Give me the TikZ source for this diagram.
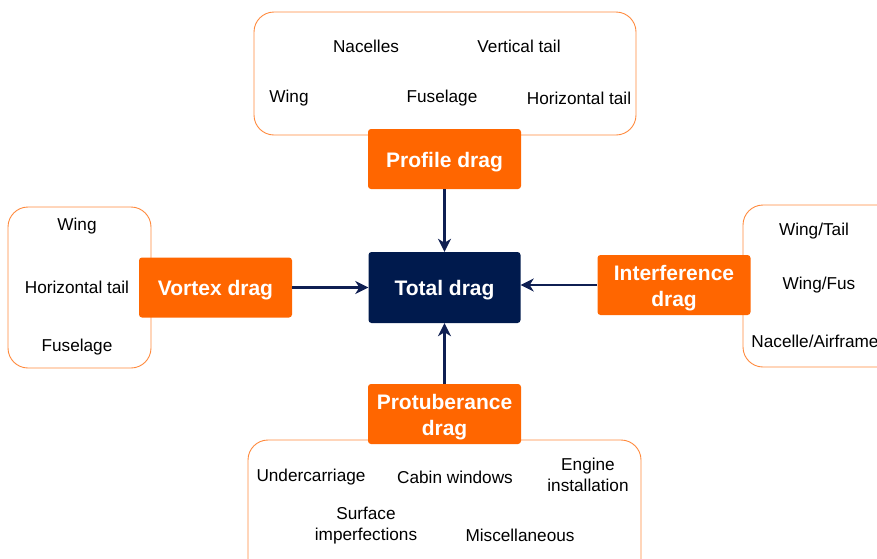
\documentclass[tikz,border=0pt]{standalone}
\usepackage{fontspec}
\setmainfont{Liberation Sans}
\usetikzlibrary{arrows.meta}
\definecolor{orng}{HTML}{FF6600}
\definecolor{grpline}{HTML}{FF8A3D}
\definecolor{navy}{HTML}{001A4D}
\definecolor{arr}{HTML}{0F1F52}
\tikzset{
  grp/.style={draw=grpline, line width=0.9pt, rounded corners=20pt, fill=white, inner sep=0pt},
  cat/.style={fill=orng, rounded corners=3pt, inner sep=0pt, minimum width=153pt, minimum height=60pt},
  tot/.style={fill=navy, rounded corners=3pt, inner sep=0pt, minimum width=152pt, minimum height=71pt},
  lbl/.style={inner sep=0pt, text=white, font=\fontsize{21}{26}\selectfont\bfseries, align=center},
  itm/.style={inner sep=0pt, text=black, font=\fontsize{17.2}{21}\selectfont, align=center},
  conn/.style={draw=arr, line width=2.2pt, -{Stealth[length=13pt,width=13pt,inset=4pt]}}
}
\begin{document}
\begin{tikzpicture}[x=1pt,y=-1pt]
\useasboundingbox (0,0) rectangle (877,558);
\clip (0,0) rectangle (877,558);
% group boxes
\node[grp, minimum width=382pt, minimum height=123pt] (gtop) at (445,73.5) {};
\node[grp, minimum width=143pt, minimum height=161pt] (gleft) at (79.5,287.5) {};
\node[grp, minimum width=160pt, minimum height=162pt] (gright) at (823,286) {};
\node[grp, minimum width=393pt, minimum height=160pt] (gbot) at (444.5,520) {};
% items top
\node[itm] (t1) at (366,46.5) {Nacelles};
\node[itm] (t2) at (519,46.5) {Vertical tail};
\node[itm] (t3) at (289,98.5) {Wing};
\node[itm] (t4) at (442,98.5) {Fuselage};
\node[itm] (t5) at (579,98.5) {Horizontal tail};
% items left
\node[itm] (l1) at (77,226.5) {Wing};
\node[itm] (l2) at (77,287.5) {Horizontal tail};
\node[itm] (l3) at (77,347.5) {Fuselage};
% items right
\node[itm] (r1) at (814,231.5) {Wing/Tail};
\node[itm] (r2) at (819,285.5) {Wing/Fus};
\node[itm] (r3) at (815,341.5) {Nacelle/Airframe};
% items bottom
\node[itm] (b1) at (311,477.5) {Undercarriage};
\node[itm] (b2) at (455,477.5) {Cabin windows};
\node[itm] (b3) at (588,475) {Engine\\installation};
\node[itm] (b4) at (366,526) {Surface\\imperfections};
\node[itm] (b5) at (520,535.5) {Miscellaneous};
% category boxes
\node[cat] (prof) at (444.5,159) {};
\node[cat] (vort) at (215.5,287.5) {};
\node[cat] (intf) at (674,285) {};
\node[cat] (prot) at (444.5,414) {};
\node[tot] (tot) at (444.5,287.5) {};
\node[lbl] (profl) at ([yshift=-3pt]prof.center) {Profile drag};
\node[lbl] (vortl) at ([yshift=-3pt]vort.center) {Vortex drag};
\node[lbl] (intfl) at ([yshift=-3pt]intf.center) {Interference\\drag};
\node[lbl] (protl) at ([yshift=-3pt]prot.center) {Protuberance\\drag};
\node[lbl] (totl) at ([yshift=-3pt]tot.center) {Total drag};
% connectors
\draw[conn] (prof.south) -- (tot.north);
\draw[conn] (vort.east) -- (tot.west);
\draw[conn] (intf.west) -- (tot.east |- intf.west);
\draw[conn] (prot.north) -- (tot.south);
\end{tikzpicture}
\end{document}
